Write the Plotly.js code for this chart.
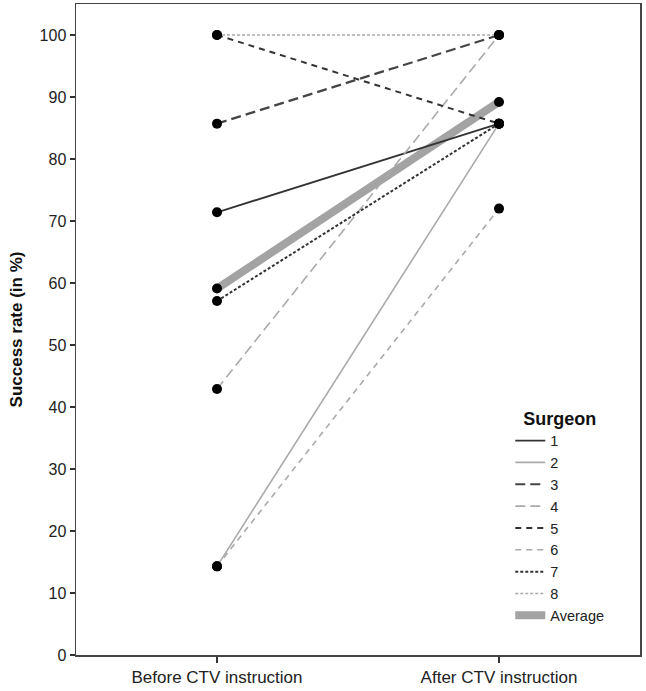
<!DOCTYPE html>
<html>
<head>
<meta charset="utf-8">
<script src="https://cdn.plot.ly/plotly-3.0.1.min.js"></script>
<style>html,body{margin:0;padding:0;background:#fff;}#chart{width:646px;height:691px;}</style>
</head>
<body>
<div id="chart"></div>
<script>
const categories = ["Before CTV instruction", "After CTV instruction"];
const surgeons = ["1", "2", "3", "4", "5", "6", "7", "8"];
const beforeRate = [71.4, 14.3, 85.7, 42.9, 100, 14.3, 57.1, 100];
const afterRate = [85.7, 85.7, 100, 100, 85.7, 72.0, 85.7, 100];
const averageRate = [59.1, 89.2];

const lineColors = ["#333333", "#aaaaaa", "#444444", "#aaaaaa", "#333333", "#aaaaaa", "#333333", "#aaaaaa"];
const lineDashes = ["solid", "solid", "10px,5px", "10px,5px", "6px,5px", "6px,5px", "3px,2px", "3px,2px"];
const lineWidths = [1.8, 1.6, 2.2, 1.6, 2, 1.6, 2, 1.6];

const traces = [];
traces.push({
  x: categories, y: averageRate, type: "scatter", mode: "lines", name: "Average",
  line: {color: "#a3a3a3", width: 8}, legendrank: 1000
});
surgeons.forEach((s, i) => {
  traces.push({
    x: categories, y: [beforeRate[i], afterRate[i]], type: "scatter", mode: "lines", name: s,
    line: {color: lineColors[i], dash: lineDashes[i], width: lineWidths[i]}, legendrank: i + 1
  });
});
const allX = [], allY = [];
surgeons.forEach((s, i) => { allX.push(categories[0], categories[1]); allY.push(beforeRate[i], afterRate[i]); });
allX.push(categories[0], categories[1]); allY.push(averageRate[0], averageRate[1]);
traces.push({
  x: allX, y: allY, type: "scatter", mode: "markers", showlegend: false,
  marker: {color: "#000", size: 10}, hoverinfo: "skip"
});

const layout = {
  width: 646, height: 691,
  margin: {l: 76, r: 6, t: 4, b: 36},
  paper_bgcolor: "#fff", plot_bgcolor: "#fff",
  font: {family: "Liberation Sans, Arial, sans-serif", size: 15, color: "#222"},
  showlegend: true,
  legend: {
    x: 0.77, xanchor: "left", y: 0.035, yanchor: "bottom",
    title: {text: "<b>Surgeon</b>", font: {size: 18, color: "#111"}, side: "top center"},
    font: {size: 14.5, color: "#222"},
    itemwidth: 30, tracegroupgap: 0, bgcolor: "rgba(0,0,0,0)"
  },
  xaxis: {
    type: "category", range: [-0.5, 1.5], showgrid: false, zeroline: false,
    showline: true, linecolor: "#444", linewidth: 1.5, mirror: true,
    ticks: "outside", ticklen: 6, tickcolor: "#333", tickwidth: 1.5,
    tickfont: {size: 17, color: "#222"}
  },
  yaxis: {
    range: [0, 105], tickvals: [0,10,20,30,40,50,60,70,80,90,100],
    showgrid: false, zeroline: false,
    showline: true, linecolor: "#444", linewidth: 1.5, mirror: true,
    ticks: "outside", ticklen: 5, tickcolor: "#333", tickwidth: 1.5,
    tickfont: {size: 16, color: "#222"},
    title: {text: "<b>Success rate (in %)</b>", font: {size: 17, color: "#111"}, standoff: 12}
  }
};
Plotly.newPlot("chart", traces, layout, {displayModeBar: false, staticPlot: true});
</script>
</body>
</html>
